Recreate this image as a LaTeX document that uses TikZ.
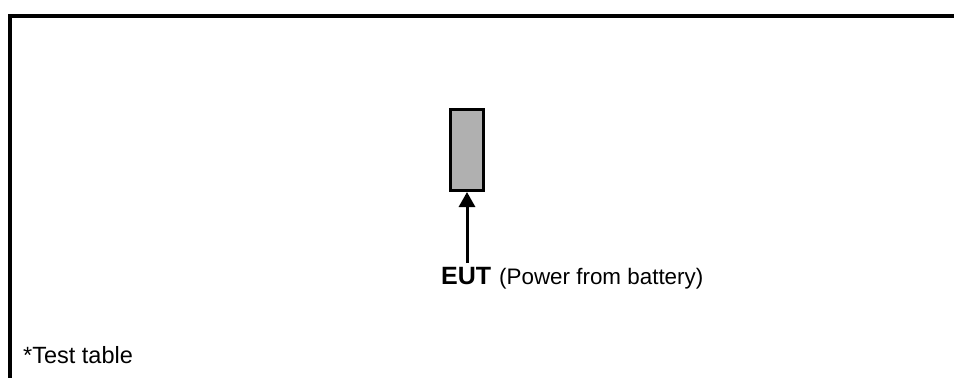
\documentclass[tikz,border=0pt]{standalone}
\usepackage{fontspec}
\setmainfont{Liberation Sans}
\usetikzlibrary{arrows.meta}
\begin{document}
\begin{tikzpicture}[x=1pt,y=-1pt,
  frameline/.style={line width=4.5pt},
  eutbox/.style={draw,line width=3pt,fill=black!31,minimum width=33pt,minimum height=81pt,inner sep=0pt},
  feed/.style={line width=3pt,-{Triangle[length=15pt,width=16pt]}},
  lbl/.style={inner sep=0pt,anchor=base west}]
\useasboundingbox (0,0) rectangle (954,378);
\draw[frameline] (954,16) -- (10,16) -- (10,378);
\node[eutbox] (box) at (467,150) {};
\coordinate (tail) at (467,263);
\draw[feed] (tail) -- (box.south);
\node[lbl,font=\bfseries\fontsize{25}{30}\selectfont] (eut) at (441,284) {EUT};
\node[lbl,font=\fontsize{22.4}{27}\selectfont] (pwr) at (499,284) {(Power from battery)};
\node[lbl,font=\fontsize{23.5}{28}\selectfont] (tt) at (23,363) {*Test table};
\end{tikzpicture}
\end{document}
